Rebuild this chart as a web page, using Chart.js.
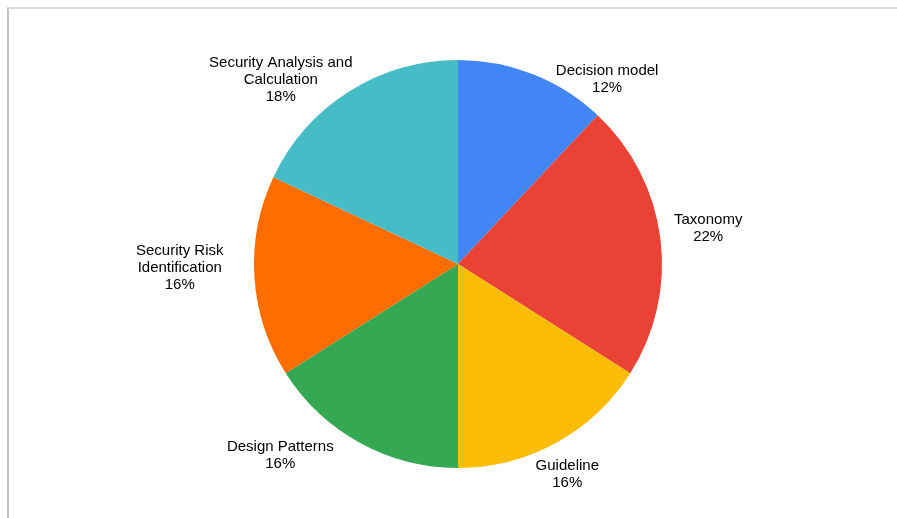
<!DOCTYPE html>
<html lang="en">
<head>
  <meta charset="UTF-8">
  <title>Pie chart</title>
  <script src="https://cdn.jsdelivr.net/npm/chart.js"></script>
  <style>
    body {
      margin: 0;
      background: white;
      font-family: "Liberation Sans", Arial, sans-serif;
    }
    .frame {
      position: absolute;
      left: 7px;
      top: 7px;
      width: 900px;
      height: 520px;
      border-top: 2px solid #dadada;
      border-left: 2px solid #c4c4c4;
    }
    canvas {
      position: absolute;
      left: 0;
      top: 0;
    }
  </style>
</head>
<body>
  <div class="frame"></div>
  <canvas id="pieChart" width="897" height="518"></canvas>

  <script>
    // Slice data (clockwise from 12 o'clock)
    const labels = [
      ["Decision model"],
      ["Taxonomy"],
      ["Guideline"],
      ["Design Patterns"],
      ["Security Risk", "Identification"],
      ["Security Analysis and", "Calculation"]
    ];
    const shares = [12, 22, 16, 16, 16, 18];
    const colors = ["#4285F4", "#EA4335", "#FBBC04", "#34A853", "#FF6D01", "#46BDC6"];

    // small hand tweaks so labels sit where the original puts them
    const labelNudge = [[50, 34], [0, -6], [-11, 4], [-47, -15], [-17, -11], [-22, 21]];

    // draws "name / NN%" outside each slice
    const outsideLabels = {
      id: 'outsideLabels',
      afterDatasetsDraw(chart) {
        const ctx = chart.ctx;
        const meta = chart.getDatasetMeta(0);
        const lineH = 17;
        ctx.save();
        ctx.font = '15px "Liberation Sans", Arial, sans-serif';
        ctx.fillStyle = '#000';
        ctx.textAlign = 'center';
        ctx.textBaseline = 'middle';
        meta.data.forEach((arc, i) => {
          const lines = labels[i].concat([shares[i] + '%']);
          const w = Math.max(...lines.map(l => ctx.measureText(l).width));
          const h = lines.length * lineH;
          const mid = (arc.startAngle + arc.endAngle) / 2;
          const r = arc.outerRadius + 14;
          const cx = arc.x + Math.cos(mid) * (r + w / 2) + labelNudge[i][0];
          const cy = arc.y + Math.sin(mid) * (r + h / 2) + labelNudge[i][1];
          lines.forEach((l, k) => {
            ctx.fillText(l, cx, cy - h / 2 + lineH / 2 + k * lineH);
          });
        });
        ctx.restore();
      }
    };

    new Chart(document.getElementById('pieChart'), {
      type: 'pie',
      data: {
        labels: labels.map(l => l.join(' ')),
        datasets: [{
          data: shares,
          backgroundColor: colors,
          borderWidth: 0
        }]
      },
      options: {
        responsive: false,
        animation: false,
        layout: {
          padding: { left: 254, right: 235, top: 60, bottom: 50 }
        },
        plugins: {
          legend: { display: false },
          tooltip: { enabled: false }
        }
      },
      plugins: [outsideLabels]
    });
  </script>
</body>
</html>
